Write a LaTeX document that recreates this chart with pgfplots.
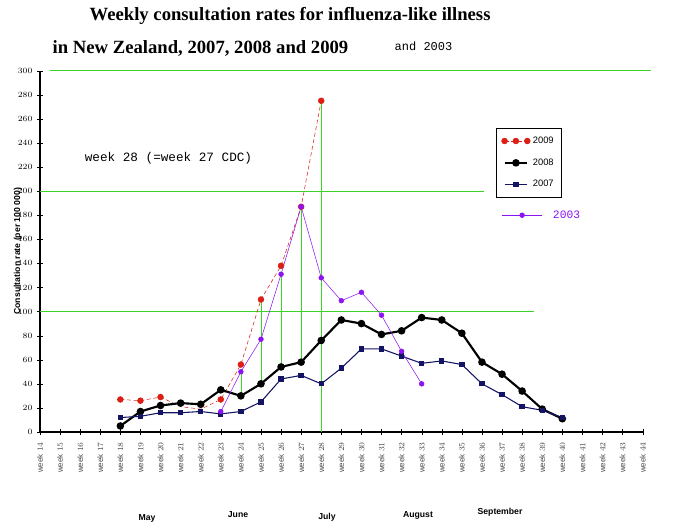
\documentclass[border=0pt]{standalone}
\usepackage{pgfplots}
\pgfplotsset{compat=1.18}
\usepackage{fontspec}
\setmainfont{Liberation Serif}
\setsansfont{Liberation Sans}
\setmonofont{Liberation Mono}
\definecolor{c09}{RGB}{220,30,20}
\definecolor{c07}{RGB}{20,20,100}
\definecolor{c03}{RGB}{140,20,240}
\definecolor{gl}{RGB}{60,210,40}
\begin{document}
\begin{tikzpicture}[x=0.75pt,y=0.75pt]
\useasboundingbox (0,0) rectangle (700,530);
\node[anchor=west,font=\bfseries\fontsize{14}{16}\selectfont] at (85,514) {Weekly consultation rates for influenza-like illness};
\node[anchor=west,font=\bfseries\fontsize{14}{16}\selectfont] at (48,482) {in New Zealand, 2007, 2008 and 2009};
\node[anchor=west,font=\ttfamily\fontsize{9}{10}\selectfont] at (390,484) {and 2003};
\begin{axis}[at={(40pt*0.75,98pt*0.75)},anchor=south west,scale only axis,
 width=452pt,height=271pt,
 xmin=14,xmax=44,ymin=0,ymax=300,
 axis lines=left, axis line style={-,thick},
 clip=false,
 xtick={14,...,44},
 xticklabel={\rotatebox{90}{week \pgfmathprintnumber{\tick}}},
 xticklabel style={anchor=north,font=\sffamily\fontsize{6}{7}\selectfont,color=black!70,yshift=-2pt},
 ytick={0,20,...,300},
 yticklabel style={font=\sffamily\fontsize{6.5}{7}\selectfont},
 ylabel={\textbf{Consultation rate (per 100 000)}},
 ylabel style={font=\sffamily\fontsize{6.5}{7}\selectfont,yshift=-10pt},
 tick style={black},
 legend style={at={(axis cs:36.7,252)},anchor=north west,font=\sffamily\fontsize{7}{8}\selectfont,draw=black,row sep=6pt,inner sep=4pt},
 legend cell align=left,
]
\addplot[gl,thick,forget plot] coordinates {(14.5,300)(44.4,300)};
\addplot[gl,forget plot] coordinates {(14,200)(36.1,200)};
\addplot[gl,forget plot] coordinates {(14,100)(38.6,100)};
\addplot[gl,forget plot] coordinates {(24,50)(24,30)};
\addplot[gl,forget plot] coordinates {(25,110)(25,40)};
\addplot[gl,forget plot] coordinates {(26,131)(26,54)};
\addplot[gl,forget plot] coordinates {(27,187)(27,58)};
\addplot[gl,forget plot] coordinates {(28,275)(28,0)};
\addplot[c09,densely dashed,mark=*,mark size=2.2pt,mark options={solid},mark indices={1,2,3,6,7,8,9,10,11}] coordinates {
(18,27)(19,26)(20,29)(21,21)(22,19)(23,27)(24,56)(25,110)(26,138)(27,187)(28,275)};
\addlegendentry{2009}
\addplot[black,line width=1.6pt,mark=*,mark size=2pt] coordinates {
(18,5)(19,17)(20,22)(21,24)(22,23)(23,35)(24,30)(25,40)(26,54)(27,58)(28,76)(29,93)(30,90)(31,81)(32,84)(33,95)(34,93)(35,82)(36,58)(37,48)(38,34)(39,19)(40,11)};
\addlegendentry{2008}
\addplot[c07,thick,mark=square*,mark size=1.6pt] coordinates {
(18,12)(19,13)(20,16)(21,16)(22,17)(23,15)(24,17)(25,25)(26,44)(27,47)(28,40)(29,53)(30,69)(31,69)(32,63)(33,57)(34,59)(35,56)(36,40)(37,31)(38,21)(39,18)(40,12)};
\addlegendentry{2007}
\addplot[c03,mark=*,mark size=1.8pt,forget plot] coordinates {
(23,17)(24,50)(25,77)(26,131)(27,187)(28,128)(29,109)(30,116)(31,97)(32,67)(33,40)};
\addplot[c03,mark=*,mark size=1.8pt,mark indices={2},forget plot] coordinates {(37,180)(38,180)(39,180)};
\node[anchor=west,c03,font=\ttfamily\fontsize{8.5}{9}\selectfont] at (axis cs:39.3,180) {2003};
\node[anchor=west,font=\ttfamily\fontsize{9.5}{10}\selectfont] at (axis cs:16,227) {week 28 (=week 27 CDC)};
\end{axis}
\node[font=\sffamily\bfseries\fontsize{6.5}{7}\selectfont] at (147,12) {May};
\node[font=\sffamily\bfseries\fontsize{6.5}{7}\selectfont] at (238,15) {June};
\node[font=\sffamily\bfseries\fontsize{6.5}{7}\selectfont] at (327,13) {July};
\node[font=\sffamily\bfseries\fontsize{6.5}{7}\selectfont] at (418,15) {August};
\node[font=\sffamily\bfseries\fontsize{6.5}{7}\selectfont] at (500,18) {September};
\end{tikzpicture}
\end{document}
